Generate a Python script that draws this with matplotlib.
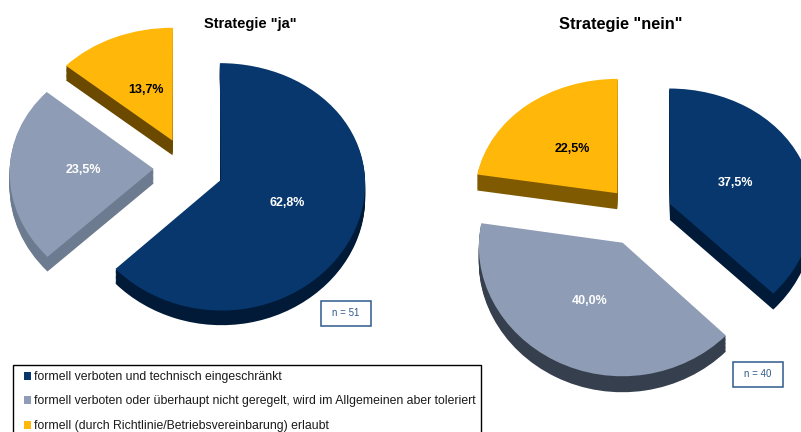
import numpy as np
import matplotlib
matplotlib.use("Agg")
import matplotlib.pyplot as plt
from matplotlib.patches import Patch, Rectangle
from matplotlib.transforms import Affine2D, Transform

plt.rcParams['font.family'] = ['Liberation Sans', 'DejaVu Sans']

W, H = 801, 432

categories = ['formell verboten und technisch eingeschränkt',
              'formell verboten oder überhaupt nicht geregelt, wird im Allgemeinen aber toleriert',
              'formell (durch Richtlinie/Betriebsvereinbarung) erlaubt']
values_ja = [62.8, 23.5, 13.7]
values_nein = [37.5, 40.0, 22.5]
n_ja = 51
n_nein = 40

colors = ['#07376c', '#8e9cb5', '#ffb80a']
sides_ja = ['#001a38', '#6d7b90', '#6b4a00']
sides_nein = ['#001a38', '#363f4d', '#7f5a00']
text_colors = ['white', 'white', 'black']


class Tilt(Transform):
    # perspective of the pie: far (upper) half smaller, near half bigger
    input_dims = 2
    output_dims = 2

    def __init__(self, px, py):
        super().__init__()
        self.px = px
        self.py = py

    def transform_non_affine(self, values):
        values = np.asarray(values, dtype=float)
        x = values[:, 0] / (1 + self.px * values[:, 1])
        y = values[:, 1] / (1 + self.py * values[:, 1])
        return np.column_stack([x, y])


def fx(px):
    return px / W


def fy(py):
    return 1 - py / H


def fake3d_pie(fig, values, sides, explode, cx, cy, rx, ry, depth):
    ax = fig.add_axes([0, 0, 1, 1])
    ax.patch.set_visible(False)
    tilt = Tilt(0.025, 0.055)
    layers = []
    # side walls first, then the top face over them
    for d in np.linspace(depth, 0.01, 12):
        w, _ = ax.pie(values, colors=sides, explode=explode, startangle=90, counterclock=False,
                      wedgeprops={'linewidth': 0})
        layers.append((w, d))
    w, _ = ax.pie(values, colors=colors, explode=explode, startangle=90, counterclock=False,
                  wedgeprops={'linewidth': 0})
    layers.append((w, 0))
    ax.set_aspect('auto')
    ax.set_xlim(-cx / rx, (W - cx) / rx)
    ax.set_ylim((cy - H) / ry, cy / ry)
    for wedges, d in layers:
        for wedge in wedges:
            wedge.set_transform(tilt + Affine2D().translate(0, -d) + ax.transData)
    ax.axis('off')
    return ax


def n_box(fig, x, y, w, h, n):
    fig.add_artist(Rectangle((fx(x), fy(y + h)), w / W, h / H, transform=fig.transFigure,
                             facecolor='white', edgecolor='#2f5a8c', linewidth=1.1))
    fig.text(fx(x + w / 2), fy(y + h / 2), 'n = %d' % n, color='#2f5a8c', fontsize=7,
             ha='center', va='center')


fig = plt.figure(figsize=(W / 100, H / 100), dpi=100)

fake3d_pie(fig, values_ja, sides_ja, [0.25, 0.235, 0.25], 187.5, 168, 144, 122, 0.12)
fake3d_pie(fig, values_nein, sides_nein, [0.235, 0.25, 0.235], 639, 215, 143, 123, 0.13)

fig.text(fx(250), fy(24), 'Strategie "ja"', fontsize=10.5, fontweight='bold', ha='center', va='center')
fig.text(fx(621), fy(25), 'Strategie "nein"', fontsize=11.8, fontweight='bold', ha='center', va='center')

pos_ja = [(287, 203), (83, 170), (146, 90)]
pos_nein = [(736, 183), (590, 301), (572, 149)]
for vals, pos in ((values_ja, pos_ja), (values_nein, pos_nein)):
    for v, (x, y), c in zip(vals, pos, text_colors):
        fig.text(fx(x), fy(y), ('%.1f%%' % v).replace('.', ','), color=c, fontsize=9,
                 fontweight='bold', ha='center', va='center')

n_box(fig, 320.5, 300.5, 50, 25, n_ja)
n_box(fig, 732.5, 361.5, 50, 25, n_nein)

# legend frame runs off the bottom of the picture
fig.add_artist(Rectangle((fx(12.5), fy(440)), 468 / W, 75 / H, transform=fig.transFigure,
                         facecolor='white', edgecolor='black', linewidth=1))
handles = [Patch(facecolor=c, edgecolor='none') for c in colors]
leg = fig.legend(handles, categories, loc='upper left', bbox_to_anchor=(fx(24), fy(371)),
                 borderaxespad=0, borderpad=0, frameon=False, fontsize=8.8,
                 handlelength=0.6, handleheight=0.6, handletextpad=0.25, labelspacing=1.02)
for t in leg.get_texts():
    t.set_color('#1a1a1a')

fig.savefig('out.png', dpi=100)
